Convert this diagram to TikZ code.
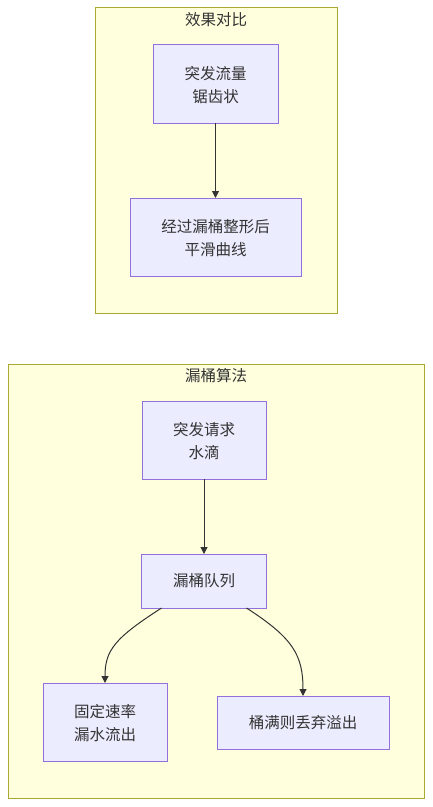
\documentclass[tikz,border=0pt]{standalone}
\usepackage{fontspec}
\setmainfont{Noto Sans CJK SC}
\usetikzlibrary{arrows.meta}
\definecolor{clfill}{HTML}{FFFFDE}
\definecolor{clline}{HTML}{AAAA33}
\definecolor{ndfill}{HTML}{ECECFF}
\definecolor{ndline}{HTML}{9370DB}
\definecolor{txt}{HTML}{333333}
\tikzset{
  cluster/.style={fill=clfill,draw=clline,line width=1bp},
  nodebox/.style={fill=ndfill,draw=ndline,line width=1bp},
  lbl/.style={text=txt,font=\fontsize{15.5bp}{23bp}\selectfont,align=center,inner sep=0},
  conn/.style={draw=txt,line width=1bp,-{Triangle[length=7bp,width=7bp]}}
}
\begin{document}
\begin{tikzpicture}[x=1bp,y=-1bp]
\useasboundingbox (0,0) rectangle (432,807);
% cluster 1
\draw[cluster] (95,8) rectangle (337,313);
\node[lbl] (t1) at (216,20) {效果对比};
\draw[nodebox] (153,45) rectangle (278,123);
\node[lbl] (a) at (215.5,85) {突发流量\\锯齿状};
\coordinate (aS) at (215.5,123);
\draw[nodebox] (130,198) rectangle (301,276);
\node[lbl] (b) at (215.5,238) {经过漏桶整形后\\平滑曲线};
\coordinate (bN) at (215.5,198);
\draw[conn] (aS) -- (bN);
% cluster 2
\draw[cluster] (8,364) rectangle (424,798);
\node[lbl] (t2) at (216,376) {漏桶算法};
\draw[nodebox] (142,401) rectangle (266,479);
\node[lbl] (c) at (204,441) {突发请求\\水滴};
\coordinate (cS) at (204,479);
\draw[nodebox] (141.5,554) rectangle (266.5,608);
\node[lbl] (q) at (204,581) {漏桶队列};
\coordinate (qN) at (204,554);
\coordinate (qL) at (161.5,608);
\coordinate (qR) at (246.5,608);
\draw[nodebox] (43,683) rectangle (167,761);
\node[lbl] (l) at (105,723) {固定速率\\漏水流出};
\coordinate (lN) at (105,683);
\draw[nodebox] (217,696) rectangle (389,749);
\node[lbl] (r) at (303,722.5) {桶满则丢弃溢出};
\coordinate (rN) at (303,696);
\draw[conn] (cS) -- (qN);
\draw[conn] (qL) .. controls (115,638) and (105,650) .. (lN);
\draw[conn] (qR) .. controls (293,638) and (303,655) .. (rN);
\end{tikzpicture}
\end{document}
